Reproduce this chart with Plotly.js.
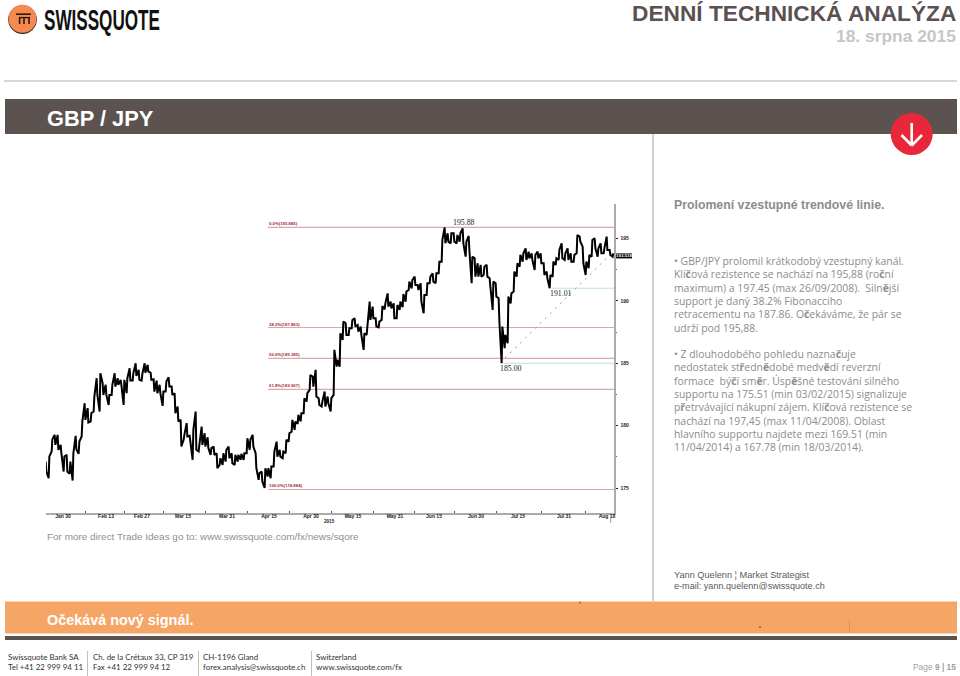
<!DOCTYPE html>
<html><head><meta charset="utf-8">
<script src="https://cdn.plot.ly/plotly-3.0.1.min.js"></script>
<style>html,body{margin:0;padding:0;background:#fff}#c{width:960px;height:676px}</style></head>
<body><div id="c"></div>
<script>
// Price columns (one column per bar step)
const highs=[177.12,177.53,178.91,179.26,179.26,178.46,177.53,177.66,177.12,177.79,179.18,178.73,180.33,181.8,181.4,181.0,182.33,183.8,184.2,183.4,183.27,182.46,183.27,184.2,183.8,183.67,183.67,183.8,184.6,184.2,185.0,184.47,184.15,185.0,184.87,184.25,183.72,183.61,183.27,182.73,183.53,183.88,183.13,182.6,181.53,180.46,179.26,180.2,179.18,179.66,181.13,178.46,179.93,179.39,179.07,178.2,178.33,177.79,177.39,177.79,178.06,178.33,177.79,177.66,177.66,177.74,
177.79,178.99,178.86,179.26,177.79,176.19,176.32,176.59,176.59,176.72,177.92,178.72,178.06,177.92,178.86,179.39,180.46,180.33,180.86,181.0,182.2,182.6,184.06,183.93,184.47,182.2,181.93,182.73,182.33,182.2,186.07,185.27,187.4,188.34,188.2,187.8,188.47,188.6,188.07,187.94,187.4,187.94,189.94,189.54,188.6,188.34,189.59,189.8,190.6,189.94,189.8,189.67,189.94,190.55,190.74,191.54,191.67,191.94,191.27,191.41,190.47,191.41,191.94,192.21,192.21,193.14,
194.88,195.88,195.41,195.41,195.41,195.28,195.41,195.81,194.74,195.2,193.54,193.41,193.01,192.88,192.74,192.88,191.81,191.54,191.41,190.21,187.94,187.27,190.34,190.6,192.34,193.01,193.68,193.81,194.21,193.94,193.81,193.68,193.94,193.81,193.01,192.34,192.07,193.14,193.41,194.08,194.61,193.81,194.21,193.81,193.68,195.28,195.15,194.34,193.14,193.68,194.88,195.01,194.21,194.61,194.21,195.15,194.08,193.81];
const lows=[176.32,175.79,177.93,178.46,178.06,177.79,176.32,176.32,176.14,175.6,178.11,177.74,179.13,180.46,180.25,180.33,181.13,182.46,181.13,182.46,182.46,181.66,182.46,183.13,183.27,183.27,181.66,182.6,183.61,183.61,183.99,183.67,183.61,184.25,184.33,183.67,182.73,182.6,182.6,181.58,182.73,183.13,182.46,181.0,180.33,178.33,178.86,179.13,178.73,177.26,178.06,177.93,178.46,178.33,178.2,177.66,177.66,176.59,176.86,176.86,177.12,177.39,176.99,176.86,177.12,177.26,
177.26,177.79,178.06,178.32,176.59,175.65,175.52,175.0,175.92,175.79,176.72,177.52,177.52,177.39,177.79,178.72,179.52,179.66,180.14,180.33,181.0,181.93,182.86,183.13,182.33,181.66,181.53,181.53,181.8,181.13,182.46,184.73,184.73,186.87,187.27,187.27,187.8,187.94,187.54,187.27,186.07,187.27,188.47,188.6,187.94,187.88,188.47,189.32,189.54,189.4,188.6,188.6,189.27,189.49,189.94,190.87,191.0,191.27,190.87,189.94,189.0,190.47,191.41,191.54,191.41,192.21,
193.14,194.61,194.74,194.61,194.74,194.61,194.74,194.61,193.54,194.08,191.41,191.94,191.94,191.94,192.07,191.94,191.14,189.27,190.34,188.34,185.0,186.2,186.6,189.8,190.74,191.94,192.74,193.14,193.28,193.41,193.28,192.47,193.41,193.01,192.07,191.81,191.01,191.94,192.87,193.28,193.41,193.28,193.28,193.14,193.14,193.81,194.74,193.01,192.07,192.61,193.54,194.21,193.54,193.81,193.81,194.08,193.68,193.54];
const yTicks=[175,180,185,190,195];
const yMinor=[177.5,182.5,187.5,192.5];
const xTickBars=[5.67,20,32,45.67,60.33,74.33,88.33,102.33,116.33,129.33,143.33,157.33,172.67,187];
const xTickLabels=["Jan 30","Feb 13","Feb 27","Mar 15","Mar 31","Apr 15","Apr 30","May 15","May 31","Jun 15","Jun 30","Jul 15","Jul 31","Aug 18"];
const xMinorBars=[13,26,39,53,67.3,81.3,95.3,109.3,122.8,136.3,150.3,165,179.8];
const fibLevels=[195.885,187.863,185.385,182.907,174.884];
const fibLabels=["0.0%(195.885)","38.2%(187.863)","50.0%(185.385)","61.8%(182.907)","100.0%(174.884)"];
const fibStartBar=74,lastBar=189.33;
const supportLevels=[185.0,191.01], supportStart=[152.5,168.7];
const trendBars=[153,188.5], trendPrices=[185.42,193.81];
const extremes=[[139.3,195.88,"195.88"],[155,185.0,"185.00"],[171.7,191.01,"191.01"]];
const lastPrice=193.6, lastPriceLabel="193.518";
const para1=["• GBP/JPY prolomil krátkodobý vzestupný kanál.","Klí<b>č</b>ová rezistence se nachází na 195,88 (ro<b>č</b>ní","maximum) a 197.45 (max 26/09/2008).  Siln<b>ě</b>jší","support je daný 38.2% Fibonacciho","retracementu na 187.86. O<b>č</b>ekáváme, že pár se","udrží pod 195,88."];
const para2=["• Z dlouhodobého pohledu nazna<b>č</b>uje","nedostatek st<b>ř</b>edn<b>ě</b>dobé medv<b>ě</b>dí reverzní","formace  bý<b>č</b>í sm<b>ě</b>r. Úsp<b>ě</b>šné testování silného","supportu na 175.51 (min 03/02/2015) signalizuje","p<b>ř</b>etrvávající nákupní zájem. Klí<b>č</b>ová rezistence se","nachází na 197,45 (max 11/04/2008). Oblast","hlavního supportu najdete mezi 169.51 (min","11/04/2014) a 167.78 (min 18/03/2014)."];
const para1Y=[261,274.3,287.7,300.9,314.3,327.7];
const para2Y=[354,367.3,380.7,394,407.3,420.7,434,447.3];
const footer=[[8,"Swissquote Bank SA","Tel +41 22 999 94 11"],[93,"Ch. de la Crétaux 33, CP 319","Fax +41 22 999 94 12"],[203,"CH-1196 Gland","forex.analysis@swissquote.ch"],[316,"Switzerland","www.swissquote.com/fx"]];

const W=960,H=676,px=v=>v/W,py=v=>1-v/H;
const SANS='"Liberation Sans",Arial,sans-serif';
const OPEN='"Open Sans","Liberation Sans",sans-serif';
const LATO='Lato,"Liberation Sans",sans-serif';
const GREY='#5c5250';

// price path: each column is walked between its low and high
const pathX=[],pathY=[];
highs.forEach((h,i)=>{
  const c=(h+lows[i])/2, nx=i+1<highs.length?(highs[i+1]+lows[i+1])/2:c;
  const up=nx>=c;
  pathX.push(i-0.12,i+0.12);
  pathY.push(up?lows[i]:h, up?h:lows[i]);
});
const fibX=[],fibY=[];
fibLevels.forEach(l=>{fibX.push(fibStartBar,lastBar,null);fibY.push(l,l,null)});
const supX=[],supY=[];
supportLevels.forEach((l,i)=>{supX.push(supportStart[i],lastBar,null);supY.push(l,l,null)});

const data=[
 {type:'scatter',mode:'lines',x:fibX,y:fibY,line:{color:'#d8a8aa',width:1.2},hoverinfo:'skip'},
 {type:'scatter',mode:'lines',x:supX,y:supY,line:{color:'#bfe0d6',width:1.2},hoverinfo:'skip'},
 {type:'scatter',mode:'lines',x:trendBars,y:trendPrices,line:{color:'#9a9a9a',width:1,dash:'2px,5px'},hoverinfo:'skip'},
 {type:'scatter',mode:'lines',x:pathX,y:pathY,line:{color:'#000',width:2,simplify:false},hoverinfo:'skip'}
];

const ann=[];
function T(x,y,text,o={}){
  ann.push(Object.assign({xref:'paper',yref:'paper',x:px(x),y:py(y),text,showarrow:false,xanchor:o.anchor||'left',yanchor:'middle',align:o.anchor||'left',borderpad:0,borderwidth:0,
    font:{family:o.family||SANS,size:o.size||10,color:o.color||'#808080'}},o.extra||{}));
}
T(44,19.5,'<b>SWISSQUOTE</b>',{size:21,color:'#111',family:'"Liberation Sans Narrow","Liberation Sans"'}); // index 0: stretched below
T(956,13,'<b>DENNÍ TECHNICKÁ ANALÝZA</b>',{anchor:'right',size:22.7,color:'#5a5150'});
T(956,36.5,'<b>18. srpna 2015</b>',{anchor:'right',size:17.4,color:'#c6c6c6'});
T(47,118,'<b>GBP / JPY</b>',{size:21.8,color:'#fff'});
T(674,205,'<b>Prolomení vzestupné trendové linie.</b>',{size:12.3,color:'#8c8c8c'});
para1.forEach((t,i)=>T(674,para1Y[i],t,{size:10.4,color:'#8c8c8c',family:OPEN}));
para2.forEach((t,i)=>T(674,para2Y[i],t,{size:10.4,color:'#8c8c8c',family:OPEN}));
T(47,536,'For more direct Trade Ideas go to: www.swissquote.com/fx/news/sqore',{size:9.95,color:'#8f8f8f'});
T(674,574.5,'Yann Quelenn ¦ Market Strategist',{size:9.2,color:'#5a5a5a'});
T(674,586,'e-mail: yann.quelenn@swissquote.ch',{size:9.1,color:'#5a5a5a'});
T(47,620,'<b>Očekává nový signál.</b>',{size:14.4,color:'#fff'});
footer.forEach(f=>{T(f[0],656.5,f[1],{size:7.95,color:'#333',family:LATO});T(f[0],667,f[2],{size:7.95,color:'#333',family:LATO});});
T(956,667,'Page <b>9 | 15</b>',{anchor:'right',size:8.4,color:'#a0a0a0'});
T(329,521,'<b>2015</b>',{anchor:'center',size:4.6,color:'#222'});
// chart annotations bound to data
fibLevels.forEach((l,i)=>ann.push({xref:'x',yref:'y',x:fibStartBar,y:l,yshift:3.5,text:'<b>'+fibLabels[i]+'</b>',showarrow:false,xanchor:'left',yanchor:'middle',borderpad:0,font:{family:SANS,size:4.3,color:'#a32a38'}}));
extremes.forEach((e,i)=>ann.push({xref:'x',yref:'y',x:e[0],y:e[1],yshift:i==0?5:-5,text:e[2],showarrow:false,xanchor:'center',yanchor:'middle',borderpad:0,font:{family:'"Liberation Serif"',size:7.8,color:'#222'}}));
ann.push({xref:'paper',yref:'y',x:px(624),y:lastPrice,text:'<b>'+lastPriceLabel+'</b>',showarrow:false,xanchor:'center',yanchor:'middle',borderpad:0,font:{family:SANS,size:4.4,color:'#fff'}});

const R=(x0,y0,x1,y1,c)=>({type:'rect',xref:'paper',yref:'paper',x0:px(x0),x1:px(x1),y0:py(y0),y1:py(y1),fillcolor:c,line:{width:0},layer:'below'});
const L=(x0,y0,x1,y1,c,w)=>({type:'line',xref:'paper',yref:'paper',x0:px(x0),x1:px(x1),y0:py(y0),y1:py(y1),line:{color:c,width:w||1},layer:'below'});
const C=(cx,cy,r,c)=>({type:'circle',xref:'paper',yref:'paper',x0:px(cx-r),x1:px(cx+r),y0:py(cy+r),y1:py(cy-r),fillcolor:c,line:{width:0},layer:'below'});
const shapes=[
 L(4,81,957,81,'#b0b0b0',1),
 R(5,99,957,134,GREY),
 L(653,134,653,601,'#a0a0a0',1),
 C(911.7,134,21,'#e8283a'),
 L(911.7,123,911.7,145,'#fff',2.6),L(901.5,135,911.7,145.5,'#fff',2.6),L(922,135,911.7,145.5,'#fff',2.6),
 R(5,601.5,957,633.5,'#f5a566'),
 R(5,636,957,640,GREY),
 L(87.5,651,87.5,676,'#c0c0c0'),L(198.5,651,198.5,676,'#c0c0c0'),L(311.5,651,311.5,676,'#c0c0c0'),
 L(849.5,620,849.5,633,'#dc9358',1),L(580,601.5,580,604,'#7a5a40',1),L(760,626.5,760,628,'#7a3a20',1.5),
 L(610.7,518,610.7,523,'#9a9a9a',1),
 C(22.5,19.6,14.4,'#3d2a20'),C(22.5,18.8,14,'#f48a50'),
 L(16,14.2,31,14.2,'#2a1a12',1.6),L(19,17.6,30,17.6,'#2a1a12',1.4),
 L(19.6,17.6,19.6,24,'#2a1a12',1.6),L(24,17.6,24,24,'#2a1a12',1.6),L(29,17.6,29,24,'#2a1a12',1.6),
 {type:'rect',xref:'paper',yref:'y',x0:px(616),x1:px(632),y0:lastPrice-0.2,y1:lastPrice+0.2,fillcolor:'#000',line:{width:0}}
];

const layout={
 width:W,height:H,margin:{l:0,r:0,t:0,b:0},paper_bgcolor:'#fff',plot_bgcolor:'#fff',showlegend:false,
 xaxis:{domain:[px(46),px(614)],range:[0,lastBar],tickmode:'array',tickvals:xTickBars,ticktext:xTickLabels,ticks:'',ticklabelstandoff:-3,
  showgrid:false,zeroline:false,showline:true,linecolor:'#ababab',linewidth:1.5,tickangle:0,
  tickfont:{family:SANS,size:5,color:'#222',weight:'bold'},automargin:false,
  minor:{tickmode:'array',tickvals:xMinorBars,ticks:'inside',ticklen:2,tickcolor:'#555',showgrid:false}},
 yaxis:{domain:[py(513),py(204)],range:[173.0,197.76],side:'right',tickmode:'array',tickvals:yTicks,ticks:'outside',ticklen:2,tickcolor:'#222',ticklabelstandoff:2,
  showgrid:false,zeroline:false,showline:true,linecolor:'#ababab',linewidth:1.5,automargin:false,
  tickfont:{family:SANS,size:5,color:'#222',weight:'bold'},
  minor:{tickmode:'array',tickvals:yMinor,ticks:'outside',ticklen:1.5,tickcolor:'#666',showgrid:false}},
 annotations:ann,shapes
};
Plotly.newPlot('c',data,layout,{staticPlot:true,displayModeBar:false}).then(()=>{
 const t=document.querySelector('.annotation[data-index="0"] text');
 if(t){const b=t.getBBox();const cx=b.x,cy=b.y+b.height/2,sx=116/b.width,sy=1.42;
  t.setAttribute('transform',`translate(${cx},${cy}) scale(${sx},${sy}) translate(${-cx},${-cy})`);}
});
</script></body></html>
